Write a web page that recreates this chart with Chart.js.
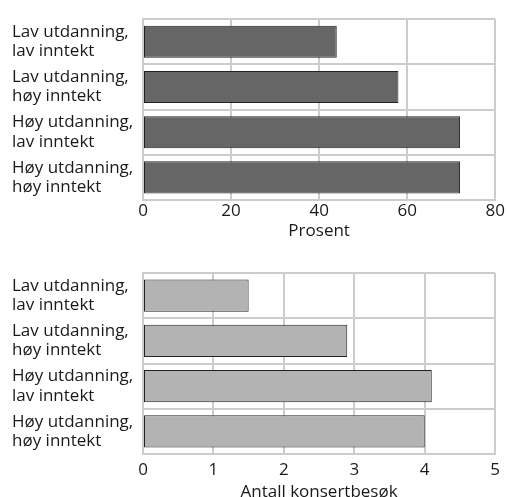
<!DOCTYPE html>
<html>
<head>
<meta charset="utf-8">
<script src="https://cdn.jsdelivr.net/npm/chart.js@4.4.1/dist/chart.umd.min.js"></script>
<style>
  html, body { margin: 0; padding: 0; background: #fff; overflow: hidden; width: 507px; height: 497px; }
  .box { position: absolute; left: 0; width: 507px; }
  #top { top: 0; height: 250px; }
  #bot { top: 250px; height: 262px; }
</style>
</head>
<body>
<div class="box" id="top"><canvas id="share-chart"></canvas></div>
<div class="box" id="bot"><canvas id="concert-chart"></canvas></div>
<script>
  // Groups (education x income), same order in both panels
  const groups = [
    ['Lav utdanning,', 'lav inntekt'],
    ['Lav utdanning,', 'høy inntekt'],
    ['Høy utdanning,', 'lav inntekt'],
    ['Høy utdanning,', 'høy inntekt'],
  ];
  const shareValues = [44, 58, 72, 72];        // Prosent
  const concertValues = [1.5, 2.9, 4.1, 4.0];  // Antall konsertbesøk
  const shareTicks = [0, 20, 40, 60, 80];
  const concertTicks = [0, 1, 2, 3, 4, 5];

  const FONT = { family: '"Open Sans", "DejaVu Sans", sans-serif', size: 17, lineHeight: 1.13 };
  const GRID = '#cccccc';

  function makeChart(id, values, ticks, title, fill, o) {
    return new Chart(document.getElementById(id), {
      type: 'bar',
      data: {
        labels: groups,
        datasets: [{
          data: values,
          backgroundColor: fill,
          borderColor: '#222',
          borderWidth: 1,
          borderSkipped: false,
          barPercentage: 0.71,
          categoryPercentage: 1,
        }],
      },
      options: {
        indexAxis: 'y',
        responsive: true,
        maintainAspectRatio: false,
        animation: false,
        layout: { padding: { left: 12, right: 10, top: o.top, bottom: 0 } },
        plugins: { legend: { display: false }, tooltip: { enabled: false } },
        scales: {
          x: {
            min: ticks[0],
            max: ticks[ticks.length - 1],
            afterBuildTicks: (s) => { s.ticks = ticks.map(v => ({ value: v })); },
            afterFit: (s) => { s.height = o.axisHeight; },
            grid: { color: GRID, lineWidth: 2, drawTicks: false },
            border: { color: GRID, width: 2 },
            ticks: { color: '#1a1a1a', font: FONT, padding: o.tickPad, maxRotation: 0 },
            title: { display: true, text: title, color: '#1a1a1a', font: FONT, padding: { top: 0, bottom: o.titlePad } },
          },
          y: {
            afterFit: (s) => { s.width = 131; },
            grid: { color: GRID, lineWidth: 2, offset: true, drawTicks: false },
            border: { color: GRID, width: 2 },
            ticks: { color: '#1a1a1a', font: FONT, crossAlign: 'far', padding: 0 },
          },
        },
      },
    });
  }

  makeChart('share-chart', shareValues, shareTicks, 'Prosent', '#666666',
    { top: 14, axisHeight: 50, tickPad: 2, titlePad: 9 });
  makeChart('concert-chart', concertValues, concertTicks, 'Antall konsertbesøk', '#b3b3b3',
    { top: 23, axisHeight: 58, tickPad: 7, titlePad: 10 });
</script>
</body>
</html>
